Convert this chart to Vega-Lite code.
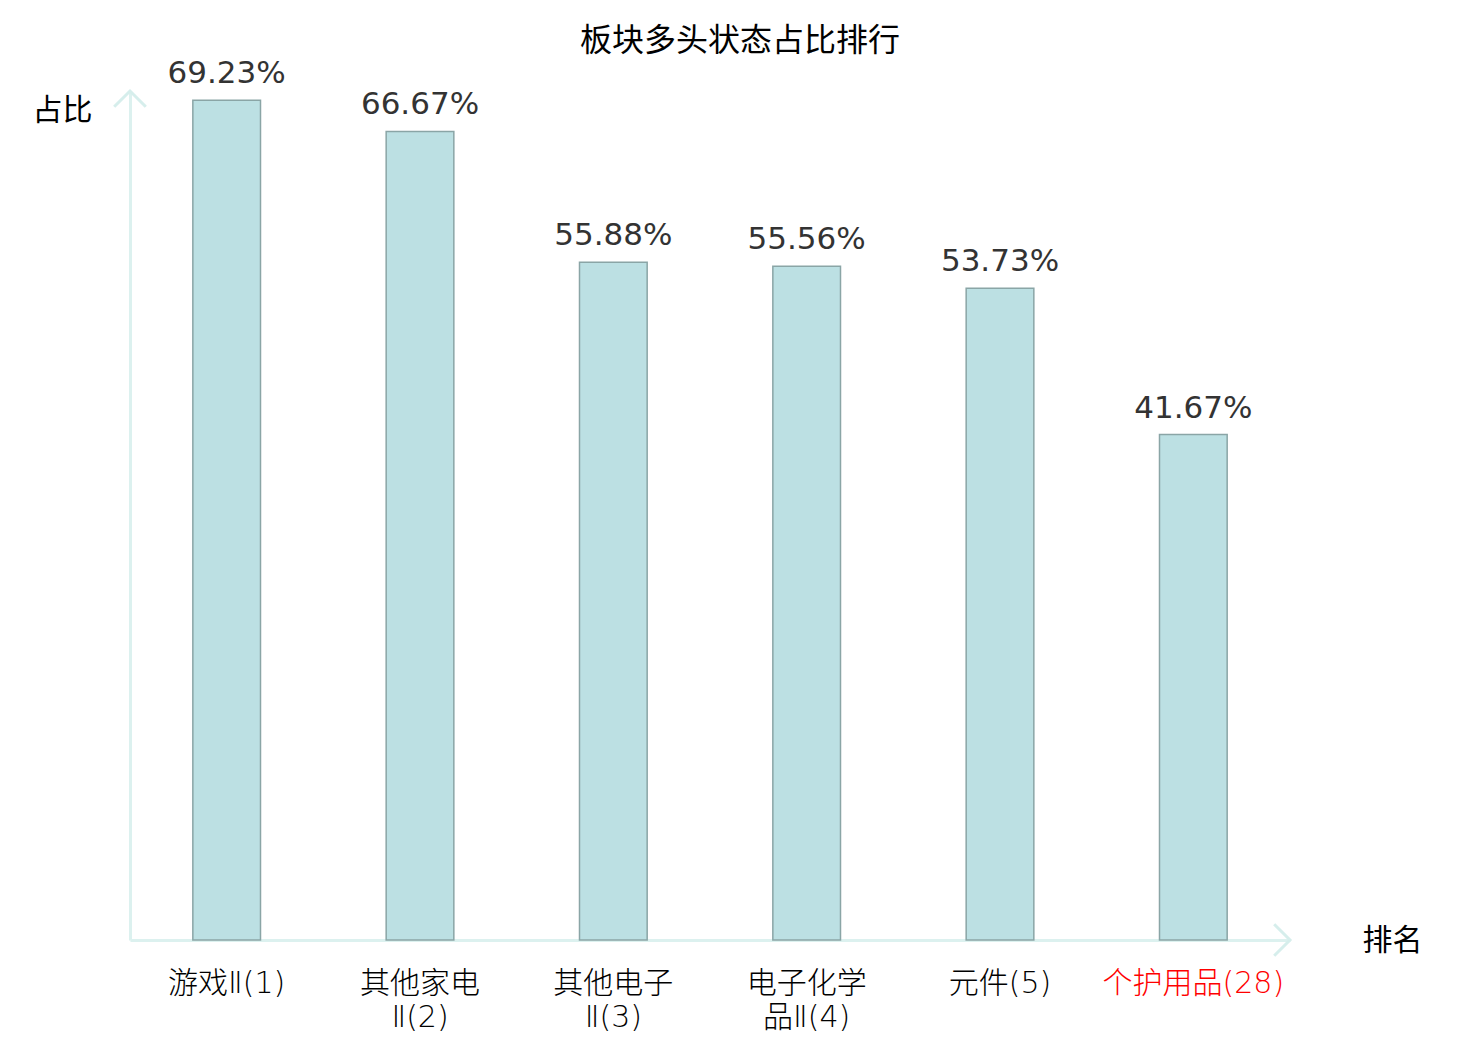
{
  "$schema": "https://vega.github.io/schema/vega-lite/v6.json",
  "width": 1160,
  "height": 849,
  "autosize": {"type": "none"},
  "padding": {"left": 130, "top": 91, "right": 190, "bottom": 100},
  "background": "white",
  "title": {
    "text": "板块多头状态占比排行",
    "font": "Noto Sans CJK SC",
    "fontSize": 32,
    "fontWeight": "normal",
    "color": "black",
    "anchor": "middle",
    "frame": "group",
    "dx": 30,
    "offset": 0
  },
  "data": {
    "values": [
      {"name": "游戏Ⅱ(1)", "pct": 0.6923},
      {"name": "其他家电|Ⅱ(2)", "pct": 0.6667},
      {"name": "其他电子|Ⅱ(3)", "pct": 0.5588},
      {"name": "电子化学|品Ⅱ(4)", "pct": 0.5556},
      {"name": "元件(5)", "pct": 0.5373},
      {"name": "个护用品(28)", "pct": 0.4167}
    ]
  },
  "encoding": {
    "x": {
      "field": "name",
      "type": "nominal",
      "sort": null,
      "scale": {"paddingInner": 0, "paddingOuter": 0},
      "axis": {
        "title": "排名",
        "titleFont": "Noto Sans CJK SC",
        "titleFontSize": 30,
        "titleFontWeight": "normal",
        "titleColor": "black",
        "titleAngle": 0,
        "titleX": 1262,
        "titleY": 0,
        "titleAlign": "center",
        "titleBaseline": "middle",
        "labelExpr": "split(datum.label, '|')",
        "labelAngle": 0,
        "labelFont": "DejaVu Sans, Noto Sans CJK SC",
        "labelFontSize": 30,
        "labelFontWeight": 200,
        "labelLineHeight": 34,
        "labelPadding": 28,
        "labelLimit": 400,
        "labelColor": {
          "condition": {"test": "datum.value == '个护用品(28)'", "value": "#ff0000"},
          "value": "black"
        },
        "ticks": false,
        "domainColor": "#dcf1ef",
        "domainWidth": 3
      }
    },
    "y": {
      "field": "pct",
      "type": "quantitative",
      "scale": {"domain": [0, 0.7], "nice": false},
      "axis": {
        "title": "占比",
        "titleFont": "Noto Sans CJK SC",
        "titleFontSize": 30,
        "titleFontWeight": "normal",
        "titleColor": "black",
        "titleAngle": 0,
        "titleX": -98,
        "titleY": 19,
        "titleAlign": "left",
        "titleBaseline": "middle",
        "labels": false,
        "ticks": false,
        "grid": false,
        "domainColor": "#dcf1ef",
        "domainWidth": 3
      }
    }
  },
  "layer": [
    {
      "mark": {
        "type": "bar",
        "width": {"band": 0.35},
        "fill": "#bce0e3",
        "stroke": "#8aa5a6",
        "strokeWidth": 1.5
      }
    },
    {
      "mark": {
        "type": "text",
        "font": "DejaVu Sans",
        "fontSize": 31,
        "color": "#333333",
        "baseline": "alphabetic",
        "dy": -17
      },
      "encoding": {
        "text": {"field": "pct", "type": "quantitative", "format": ".2%"}
      }
    },
    {
      "data": {"values": [{"tip": 0.7}]},
      "mark": {
        "type": "point",
        "shape": "M-1,1L0,0L1,1",
        "size": 1000,
        "filled": false,
        "opacity": 1,
        "stroke": "#d6eeec",
        "strokeWidth": 3
      },
      "encoding": {
        "x": {"value": 0},
        "y": {"field": "tip", "type": "quantitative"}
      }
    },
    {
      "data": {"values": [{"tip": 0}]},
      "mark": {
        "type": "point",
        "shape": "M-1,-1L0,0L-1,1",
        "size": 1000,
        "filled": false,
        "opacity": 1,
        "stroke": "#d6eeec",
        "strokeWidth": 3
      },
      "encoding": {
        "x": {"value": "width"},
        "y": {"field": "tip", "type": "quantitative"}
      }
    }
  ],
  "config": {"view": {"stroke": null}}
}
